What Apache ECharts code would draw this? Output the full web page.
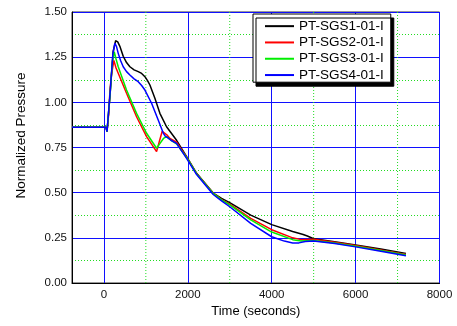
<!DOCTYPE html>
<html>
<head>
<meta charset="utf-8">
<script src="https://cdn.jsdelivr.net/npm/echarts@6/dist/echarts.min.js"></script>
<style>html,body{margin:0;padding:0;background:#fff}#c{width:457px;height:326px}</style>
</head>
<body>
<div id="c"></div>
<script>
var seriesNames = ['PT-SGS1-01-I', 'PT-SGS2-01-I', 'PT-SGS3-01-I', 'PT-SGS4-01-I'];
var seriesColors = ['#000000', '#ff0000', '#00ee00', '#0000ff'];

var t1 = [-760, 50, 75, 150, 220, 280, 330, 381, 461, 540, 620, 720, 818, 900, 978, 1040, 1097, 1216, 1335, 1494, 1733, 1972, 2210, 2606, 2805, 3000, 3500, 4000, 4500, 4750, 4850, 5000, 5500, 6000, 6600, 7200];
var v1 = [0.862, 0.862, 0.838, 1.05, 1.28, 1.341, 1.335, 1.31, 1.255, 1.22, 1.197, 1.18, 1.17, 1.16, 1.142, 1.12, 1.096, 1.022, 0.939, 0.865, 0.79, 0.699, 0.607, 0.498, 0.468, 0.445, 0.376, 0.323, 0.285, 0.268, 0.26, 0.245, 0.228, 0.21, 0.188, 0.164];

var t2 = [-760, 50, 75, 120, 143, 180, 238, 290, 342, 540, 779, 1018, 1256, 1330, 1390, 1415, 1500, 1574, 1733, 1972, 2210, 2606, 2805, 3000, 3500, 4000, 4500, 4700, 5000, 5500, 6000, 6600, 7200];
var v2 = [0.862, 0.862, 0.838, 0.95, 1.06, 1.15, 1.232, 1.19, 1.161, 1.05, 0.92, 0.81, 0.727, 0.79, 0.84, 0.847, 0.82, 0.80, 0.78, 0.697, 0.606, 0.497, 0.462, 0.437, 0.358, 0.295, 0.25, 0.24, 0.242, 0.226, 0.207, 0.183, 0.158];

var t3 = [-760, 50, 75, 150, 200, 246, 290, 342, 540, 779, 1018, 1256, 1330, 1420, 1494, 1600, 1733, 1972, 2210, 2606, 2805, 3000, 3500, 4000, 4500, 4700, 5000, 5500, 6000, 6600, 7200];
var v3 = [0.862, 0.862, 0.838, 1.05, 1.22, 1.28, 1.24, 1.197, 1.068, 0.939, 0.829, 0.746, 0.77, 0.8, 0.81, 0.79, 0.77, 0.695, 0.605, 0.496, 0.46, 0.432, 0.349, 0.282, 0.24, 0.232, 0.235, 0.222, 0.204, 0.18, 0.155];

var t4 = [-760, 50, 75, 150, 215, 262, 300, 342, 400, 461, 540, 620, 720, 818, 900, 978, 1137, 1295, 1415, 1470, 1520, 1600, 1733, 1972, 2210, 2606, 2805, 3000, 3500, 4000, 4300, 4500, 4650, 4800, 5000, 5500, 6000, 6600, 7200];
var v4 = [0.862, 0.862, 0.838, 1.06, 1.27, 1.327, 1.31, 1.271, 1.23, 1.197, 1.17, 1.151, 1.13, 1.114, 1.093, 1.068, 0.995, 0.902, 0.83, 0.81, 0.805, 0.79, 0.773, 0.69, 0.6, 0.49, 0.455, 0.422, 0.33, 0.256, 0.232, 0.222, 0.222, 0.23, 0.232, 0.218, 0.2, 0.176, 0.151];

var xRange = [-760, 8000];
var yRange = [0, 1.5];
var xMajorTicks = [0, 2000, 4000, 6000, 8000];
var xMinorLines = [1000, 3000, 5000, 7000];

function pairs(t, v) { return t.map(function (x, i) { return [x, v[i]]; }); }
var times = [t1, t2, t3, t4];
var vals = [v1, v2, v3, v4];

var FONT = 'Liberation Sans, Arial, sans-serif';
var gridColor = '#22dd22';
var series = [];
xMinorLines.forEach(function (x) {
  series.push({ type: 'line', silent: true, symbol: 'none', z: 1,
    lineStyle: { color: gridColor, width: 1, type: [1, 2] },
    data: [[x, yRange[0]], [x, yRange[1]]] });
});
seriesNames.forEach(function (n, i) {
  series.push({
    name: n, type: 'line', data: pairs(times[i], vals[i]),
    showSymbol: false, symbol: 'none', smooth: false,
    lineStyle: { color: seriesColors[i], width: 1.5 },
    itemStyle: { color: seriesColors[i] },
    z: 5 + i
  });
});

var chart = echarts.init(document.getElementById('c'), null, { renderer: 'canvas' });
chart.setOption({
  animation: false,
  backgroundColor: '#ffffff',
  grid: { left: 72, top: 12, right: 17.5, bottom: 43, show: true, borderColor: '#333', borderWidth: 1, backgroundColor: 'transparent' },
  legend: {
    data: seriesNames, orient: 'vertical', left: 253, top: 14,
    padding: [5, 7, 0, 12], itemGap: 2, itemWidth: 29, itemHeight: 2, icon: 'rect',
    backgroundColor: '#fff', borderColor: '#000', borderWidth: 1,
    shadowColor: '#000', shadowBlur: 0, shadowOffsetX: 3, shadowOffsetY: 4,
    textStyle: { fontFamily: FONT, fontSize: 13.5, color: '#000', lineHeight: 14.3 }
  },
  xAxis: {
    type: 'value', min: xRange[0], max: xRange[1],
    name: 'Time (seconds)', nameLocation: 'middle', nameGap: 22,
    nameTextStyle: { fontFamily: FONT, fontSize: 13, color: '#000' },
    axisLine: { show: true, onZero: false, lineStyle: { color: '#000', width: 1 } },
    axisTick: { show: false },
    axisLabel: {
      fontFamily: FONT, fontSize: 11.5, color: '#111', margin: 5.5, showMinLabel: false,
      formatter: function (v) { return xMajorTicks.indexOf(v) >= 0 ? String(v) : ''; }
    },
    splitLine: { show: true, lineStyle: { color: '#1010ff', width: 1 } }
  },
  yAxis: {
    type: 'value', min: yRange[0], max: yRange[1], interval: 0.25,
    name: 'Normalized Pressure', nameLocation: 'middle', nameGap: 44,
    nameTextStyle: { fontFamily: FONT, fontSize: 13.5, color: '#000', padding: [0, 0, 0, 24] },
    axisLine: { show: true, onZero: false, lineStyle: { color: '#000', width: 1 } },
    axisTick: { show: false },
    axisLabel: { fontFamily: FONT, fontSize: 11.5, color: '#111', margin: 5, formatter: function (v) { return v.toFixed(2); } },
    splitLine: { show: true, lineStyle: { color: '#1010ff', width: 1 } },
    minorTick: { show: false, splitNumber: 2 },
    minorSplitLine: { show: true, lineStyle: { color: gridColor, width: 1, type: [1, 2] } }
  },
  series: series
});
</script>
</body>
</html>
